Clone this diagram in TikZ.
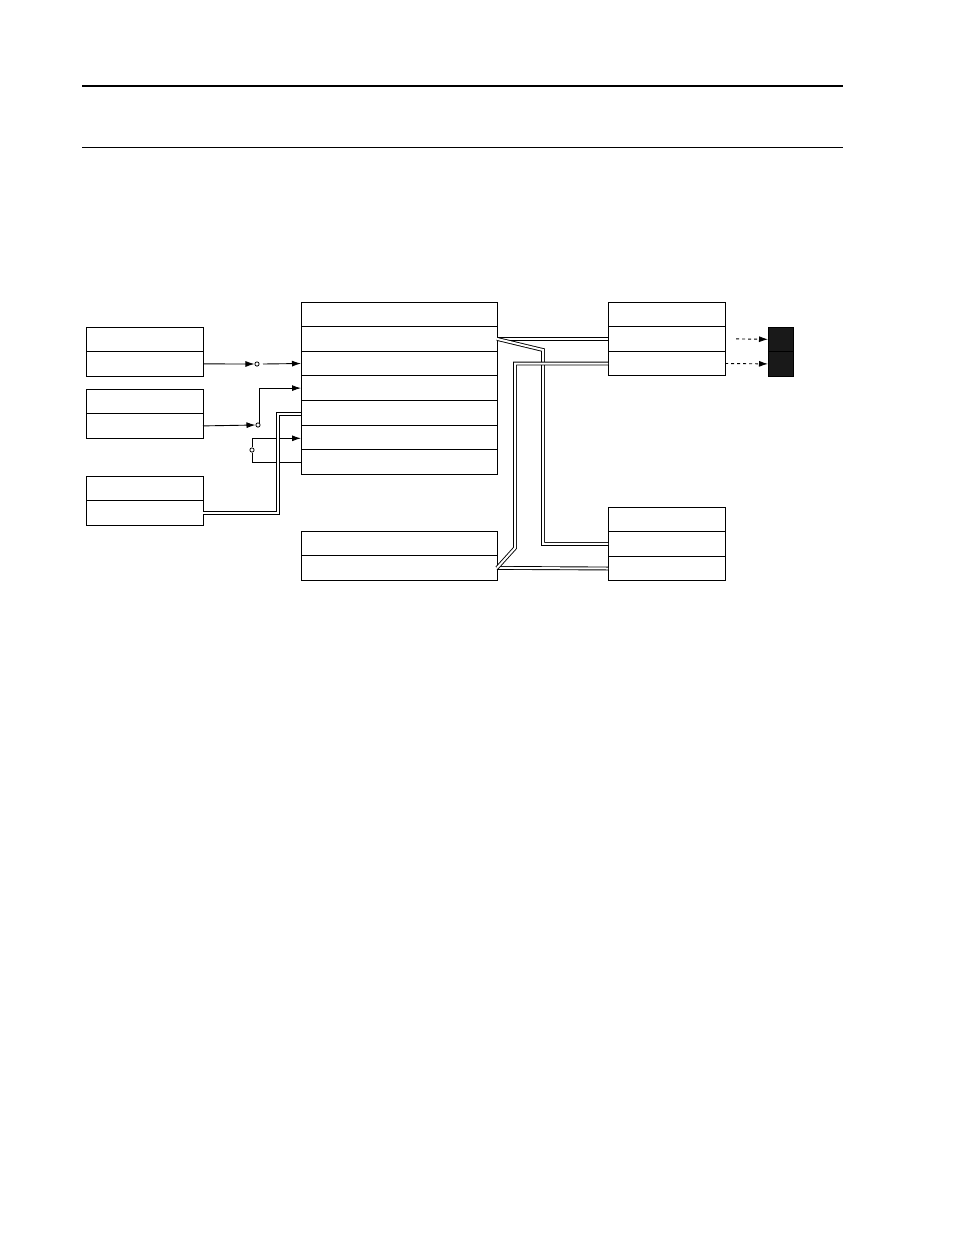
\documentclass[tikz,border=0pt]{standalone}
\usetikzlibrary{positioning,arrows.meta}
\tikzset{
  cell/.style={rectangle, draw, line width=1pt, minimum height=24.6pt, inner sep=0pt, outer sep=0pt},
  small/.style={cell, minimum width=117pt},
  wide/.style={cell, minimum width=196pt},
  blk/.style={cell, fill=black!90, minimum width=25pt},
  wire/.style={line width=0.9pt},
  pair/.style={double, double distance=2pt, line width=0.9pt},
  tip/.style={-{Latex[length=9pt,width=6pt]}},
  sw/.style={circle, draw, line width=0.8pt, inner sep=1.5pt}
}
\begin{document}
\begin{tikzpicture}[x=1pt, y=-1pt, node distance=0pt]
    \useasboundingbox (0,0) rectangle (954,1235);
    % Rules
    \draw [line width=1.5pt] (82,86) -- (843,86);
    \draw [line width=0.7pt] (82,147) -- (843,147);

    % Left boxes
    \node [small, anchor=north west] (a1) at (86,327) {};
    \node [small, below=of a1] (a2) {};
    \node [small, anchor=north west] (b1) at (86,389) {};
    \node [small, below=of b1] (b2) {};
    \node [small, anchor=north west] (c1) at (86,476) {};
    \node [small, below=of c1] (c2) {};

    % Centre boxes
    \node [wide, anchor=north west] (m1) at (301,302) {};
    \foreach \i [count=\j from 2] in {1,...,6}
        \node [wide, below=of m\i] (m\j) {};
    \node [wide, anchor=north west] (n1) at (301,531) {};
    \node [wide, below=of n1] (n2) {};

    % Right boxes
    \node [small, anchor=north west] (r1) at (608,302) {};
    \node [small, below=of r1] (r2) {};
    \node [small, below=of r2] (r3) {};
    \node [small, anchor=north west] (s1) at (608,507) {};
    \node [small, below=of s1] (s2) {};
    \node [small, below=of s2] (s3) {};
    \node [blk, anchor=north west] (k1) at (768,327) {};
    \node [blk, below=of k1] (k2) {};

    % Switches
    \node [sw] (sa) at (257,364) {};
    \node [sw] (sb) at (258,425) {};
    \node [sw] (sc) at (252,450) {};
    \coordinate (sa2) at (263,364);
    \coordinate (cb) at (278,414);
    \coordinate (bend1) at (543,350);
    \coordinate (bend2) at (515,548);

    % Single wires
    \draw [wire, tip] (a2.east) -- (sa.west);
    \draw [wire, tip] (sa2) -- (m3.west);
    \draw [wire, tip] (b2.east) -- (sb.west);
    \draw [wire, tip] (sb.north east) |- (m4.west);
    \draw [wire, tip] (sc.north) |- ([yshift=-1pt]m6.west);
    \draw [wire] (sc.south) |- ([yshift=-1pt]m7.west);

    % Double wires
    \draw [pair] (c2.east) -| (cb) -- (cb -| m5.west);
    \draw [pair] (m2.east) -- (r2.west);
    \draw [pair] (m2.east) -- (bend1) |- (s2.west);
    \draw [pair] (n2.east) -- (s3.west);
    \draw [pair] (n2.east) -- (bend2) |- (r3.west);

    % Dashed links
    \draw [wire, dashed, tip] ([xshift=11pt]r2.east) -- (k1.west);
    \draw [wire, dashed, tip] (r3.east) -- (k2.west);
\end{tikzpicture}
\end{document}
